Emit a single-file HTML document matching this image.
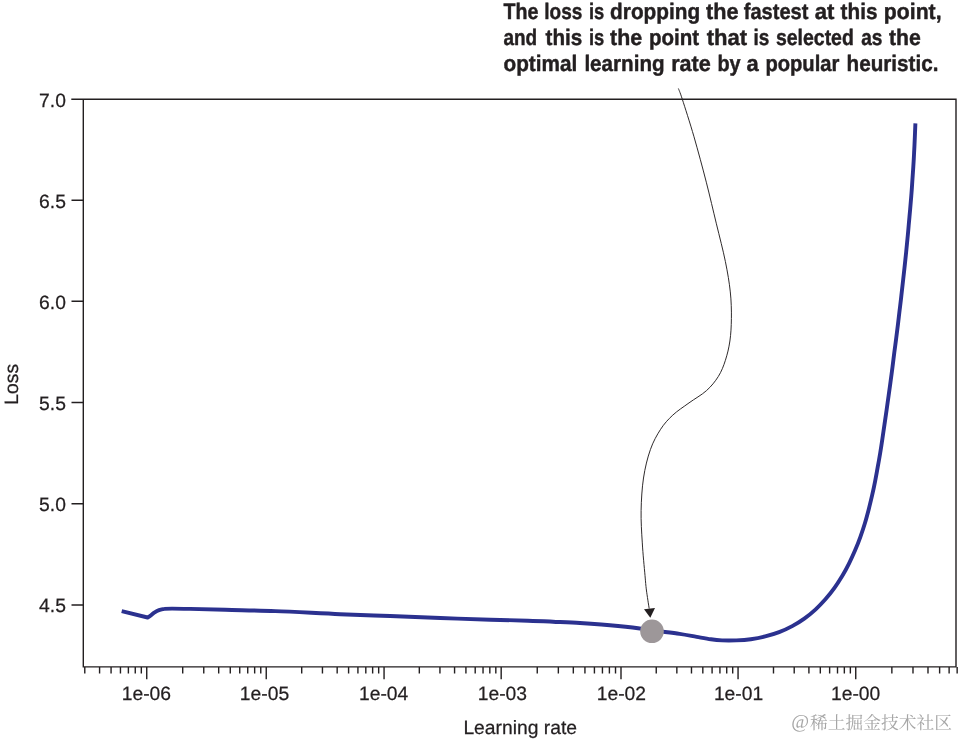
<!DOCTYPE html>
<html lang="en">
<head>
<meta charset="utf-8">
<title>Learning rate finder: loss vs. learning rate</title>
<style>
html,body{margin:0;padding:0;background:#ffffff;}
body{width:958px;height:739px;overflow:hidden;font-family:"Liberation Sans",sans-serif;}
svg{display:block;will-change:transform;text-rendering:geometricPrecision;}
</style>
</head>
<body>
<svg width="958" height="739" viewBox="0 0 958 739" role="img" aria-label="Line chart of loss versus learning rate on a log scale, with an annotation marking the point where the loss drops fastest.">
<rect x="0" y="0" width="958" height="739" fill="#ffffff"/>
<path d="M71.3 99.3 H956.0 V666.9 H83.3 V99.3" fill="none" stroke="#231f20" stroke-width="1.4" stroke-linejoin="miter"/>
<path d="M71.5 200.2 H83.3 M71.5 301.3 H83.3 M71.5 402.5 H83.3 M71.5 503.8 H83.3 M71.5 605.0 H83.3 " stroke="#231f20" stroke-width="1.4" fill="none"/>
<path d="M84.78 666.9 v6.6 M99.58 666.9 v6.6 M111.07 666.9 v6.6 M120.45 666.9 v6.6 M128.38 666.9 v6.6 M135.26 666.9 v6.6 M141.32 666.9 v6.6 M146.74 666.9 v12.4 M182.71 666.9 v6.6 M203.76 666.9 v6.6 M218.69 666.9 v6.6 M230.27 666.9 v6.6 M239.73 666.9 v6.6 M247.73 666.9 v6.6 M254.66 666.9 v6.6 M260.77 666.9 v6.6 M266.24 666.9 v12.4 M301.71 666.9 v6.6 M322.45 666.9 v6.6 M337.17 666.9 v6.6 M348.59 666.9 v6.6 M357.92 666.9 v6.6 M365.81 666.9 v6.6 M372.64 666.9 v6.6 M378.67 666.9 v6.6 M384.06 666.9 v12.4 M419.32 666.9 v6.6 M439.94 666.9 v6.6 M454.57 666.9 v6.6 M465.92 666.9 v6.6 M475.20 666.9 v6.6 M483.04 666.9 v6.6 M489.83 666.9 v6.6 M495.82 666.9 v6.6 M501.18 666.9 v12.4 M537.25 666.9 v6.6 M558.35 666.9 v6.6 M573.32 666.9 v6.6 M584.93 666.9 v6.6 M594.42 666.9 v6.6 M602.44 666.9 v6.6 M609.39 666.9 v6.6 M615.52 666.9 v6.6 M621.00 666.9 v12.4 M656.24 666.9 v6.6 M676.85 666.9 v6.6 M691.48 666.9 v6.6 M702.82 666.9 v6.6 M712.09 666.9 v6.6 M719.93 666.9 v6.6 M726.72 666.9 v6.6 M732.70 666.9 v6.6 M738.06 666.9 v12.4 M773.49 666.9 v6.6 M794.21 666.9 v6.6 M808.91 666.9 v6.6 M820.31 666.9 v6.6 M829.63 666.9 v6.6 M837.51 666.9 v6.6 M844.34 666.9 v6.6 M850.36 666.9 v6.6 M855.74 666.9 v12.4 M891.86 666.9 v6.6 M912.99 666.9 v6.6 M927.99 666.9 v6.6 M939.62 666.9 v6.6 M949.12 666.9 v6.6 M957.15 666.9 v6.6 " stroke="#231f20" stroke-width="1.4" fill="none"/>
<g font-family="'Liberation Sans', sans-serif" font-size="19.3" fill="#231f20" stroke="#231f20" stroke-width="0.25">
<text x="65.9" y="106.7" text-anchor="end">7.0</text>
<text x="65.9" y="207.6" text-anchor="end">6.5</text>
<text x="65.9" y="308.7" text-anchor="end">6.0</text>
<text x="65.9" y="409.9" text-anchor="end">5.5</text>
<text x="65.9" y="511.2" text-anchor="end">5.0</text>
<text x="65.9" y="612.4" text-anchor="end">4.5</text>
<text x="121.70" y="700.0">1e-06</text>
<text x="239.80" y="700.0">1e-05</text>
<text x="358.95" y="700.0">1e-04</text>
<text x="477.70" y="700.0">1e-03</text>
<text x="596.70" y="700.0">1e-02</text>
<text x="713.90" y="700.0">1e-01</text>
<text x="831.00" y="700.0">1e-00</text>
<text x="520.2" y="733.6" text-anchor="middle">Learning rate</text>
<text transform="translate(17.5 384.3) rotate(-90)" text-anchor="middle">Loss</text>
</g>
<path d="M121.7 611.1 L147.6 617.5 C148.1 617.2 149.4 616.4 150.5 615.6 C151.6 614.8 152.8 613.6 154.2 612.7 C155.6 611.8 157.3 610.7 159.0 610.1 C160.7 609.5 162.3 609.1 164.5 608.9 C166.7 608.6 167.8 608.6 172.0 608.6 C176.2 608.6 181.1 608.7 190.0 608.9 C198.9 609.1 211.1 609.4 225.3 609.8 C239.5 610.2 256.3 610.4 275.4 611.1 C294.5 611.8 320.9 613.4 340.0 614.2 C359.1 615.0 373.4 615.4 390.1 616.0 C406.8 616.6 423.6 617.4 440.3 618.0 C457.0 618.6 475.8 619.2 490.4 619.7 C505.0 620.2 517.6 620.4 528.0 620.7 C538.4 621.0 544.3 621.3 553.0 621.7 C561.7 622.1 572.0 622.5 580.0 623.0 C588.0 623.5 592.5 623.8 601.3 624.5 C610.1 625.2 624.1 626.5 632.6 627.5 C641.1 628.5 644.3 629.3 652.1 630.4 C659.9 631.5 672.2 632.8 679.6 633.9 C687.0 635.0 691.5 636.0 696.7 636.9 C701.9 637.8 706.7 638.7 710.9 639.3 C715.1 639.9 717.8 640.2 722.0 640.4 C726.2 640.6 731.5 640.6 736.3 640.4 C741.1 640.2 746.0 639.9 750.8 639.2 C755.6 638.5 760.5 637.6 765.2 636.4 C769.9 635.2 774.6 633.8 779.1 632.1 C783.6 630.4 788.0 628.4 792.2 626.1 C796.4 623.9 800.4 621.4 804.3 618.6 C808.2 615.9 811.9 612.8 815.4 609.6 C818.9 606.4 822.2 602.9 825.4 599.3 C828.5 595.7 831.5 592.0 834.3 588.1 C837.1 584.2 839.7 580.1 842.2 576.0 C844.7 571.9 847.0 567.7 849.1 563.4 C851.2 559.1 853.2 554.7 855.1 550.3 C857.0 545.9 858.8 541.3 860.4 536.8 C862.0 532.3 863.5 527.8 864.9 523.2 C866.3 518.6 867.5 514.0 868.7 509.4 C869.9 504.8 871.0 500.1 872.1 495.4 C873.2 490.7 874.2 486.1 875.1 481.4 C876.0 476.7 876.9 471.9 877.7 467.2 C878.6 462.5 879.4 457.8 880.2 453.0 C881.0 448.2 881.7 443.5 882.4 438.7 C883.1 433.9 883.8 429.2 884.5 424.4 C885.2 419.6 885.9 414.8 886.6 410.0 C887.3 405.2 887.9 400.5 888.6 395.7 C889.3 390.9 890.0 386.1 890.6 381.3 C891.2 376.5 891.9 371.8 892.5 367.0 C893.1 362.2 893.7 357.4 894.3 352.6 C894.9 347.8 895.6 343.1 896.2 338.3 C896.8 333.5 897.4 328.7 898.0 323.9 C898.6 319.1 899.1 314.4 899.7 309.6 C900.3 304.8 900.9 300.1 901.4 295.3 C901.9 290.6 902.5 285.9 903.0 281.1 C903.5 276.4 904.1 271.6 904.6 266.8 C905.1 262.1 905.6 257.3 906.1 252.6 C906.6 247.9 907.0 243.2 907.5 238.4 C908.0 233.7 908.4 228.8 908.8 224.1 C909.2 219.3 909.7 214.7 910.1 209.9 C910.5 205.2 910.9 200.4 911.3 195.6 C911.7 190.8 912.0 186.1 912.3 181.3 C912.6 176.5 913.0 171.7 913.3 166.9 C913.6 162.1 913.9 157.3 914.1 152.5 C914.4 147.7 914.6 142.8 914.8 137.9 C915.0 133.0 915.3 125.7 915.4 123.3" fill="none" stroke="#2b318f" stroke-width="3.9" stroke-linecap="butt" stroke-linejoin="round"/>
<circle cx="652.0" cy="631.3" r="11.8" fill="#9d9799"/>
<path d="M678.4 88.5 C679.0 90.2 679.6 90.9 682.2 98.9 C684.8 107.0 690.0 122.9 694.0 136.8 C698.0 150.7 702.6 167.7 706.3 182.2 C710.0 196.7 713.2 210.6 716.4 223.8 C719.6 237.0 723.1 250.3 725.4 261.6 C727.7 273.0 729.3 282.4 730.3 291.9 C731.3 301.4 731.5 310.2 731.4 318.4 C731.3 326.6 730.9 334.0 729.9 341.0 C728.9 348.0 727.3 354.4 725.4 360.3 C723.5 366.2 721.5 371.4 718.3 376.5 C715.1 381.6 711.3 386.3 706.4 390.7 C701.5 395.1 694.6 398.8 689.0 402.9 C683.4 407.0 677.5 410.7 672.8 415.1 C668.1 419.5 664.3 423.6 660.6 429.3 C656.9 435.1 653.2 441.5 650.4 449.6 C647.5 457.7 645.0 467.9 643.5 478.0 C642.0 488.1 641.3 499.7 641.1 510.5 C640.9 521.3 641.6 532.1 642.3 542.9 C642.9 553.7 644.3 567.5 645.0 575.4 C645.7 583.2 645.7 584.5 646.4 590.0 C647.1 595.5 648.7 605.5 649.2 608.6" fill="none" stroke="#231f20" stroke-width="0.95"/>
<path d="M650.3 617.8 L644.0 609.3 L655.0 608.1 Z" fill="#231f20"/>
<g font-family="'Liberation Sans', sans-serif" font-weight="bold" font-size="22.4" fill="#231f20" stroke="#231f20" stroke-width="0.45" stroke-linejoin="round">
<text x="503.5" y="18.8" textLength="34.9" lengthAdjust="spacingAndGlyphs">The</text>
<text x="544.3" y="18.8" textLength="38.0" lengthAdjust="spacingAndGlyphs">loss</text>
<text x="588.9" y="18.8" textLength="15.3" lengthAdjust="spacingAndGlyphs">is</text>
<text x="610.1" y="18.8" textLength="90.1" lengthAdjust="spacingAndGlyphs">dropping</text>
<text x="706.1" y="18.8" textLength="32.5" lengthAdjust="spacingAndGlyphs">the</text>
<text x="743.8" y="18.8" textLength="64.6" lengthAdjust="spacingAndGlyphs">fastest</text>
<text x="814.7" y="18.8" textLength="19.7" lengthAdjust="spacingAndGlyphs">at</text>
<text x="840.6" y="18.8" textLength="36.8" lengthAdjust="spacingAndGlyphs">this</text>
<text x="883.8" y="18.8" textLength="57.8" lengthAdjust="spacingAndGlyphs">point,</text>
<text x="503.5" y="45.1" textLength="33.7" lengthAdjust="spacingAndGlyphs">and</text>
<text x="545.6" y="45.1" textLength="36.7" lengthAdjust="spacingAndGlyphs">this</text>
<text x="588.9" y="45.1" textLength="15.3" lengthAdjust="spacingAndGlyphs">is</text>
<text x="610.1" y="45.1" textLength="32.1" lengthAdjust="spacingAndGlyphs">the</text>
<text x="649.0" y="45.1" textLength="50.2" lengthAdjust="spacingAndGlyphs">point</text>
<text x="706.7" y="45.1" textLength="40.5" lengthAdjust="spacingAndGlyphs">that</text>
<text x="753.5" y="45.1" textLength="15.8" lengthAdjust="spacingAndGlyphs">is</text>
<text x="776.0" y="45.1" textLength="77.8" lengthAdjust="spacingAndGlyphs">selected</text>
<text x="861.2" y="45.1" textLength="21.2" lengthAdjust="spacingAndGlyphs">as</text>
<text x="889.0" y="45.1" textLength="31.8" lengthAdjust="spacingAndGlyphs">the</text>
<text x="503.5" y="70.9" textLength="73.8" lengthAdjust="spacingAndGlyphs">optimal</text>
<text x="584.4" y="70.9" textLength="80.2" lengthAdjust="spacingAndGlyphs">learning</text>
<text x="671.2" y="70.9" textLength="39.6" lengthAdjust="spacingAndGlyphs">rate</text>
<text x="717.4" y="70.9" textLength="23.2" lengthAdjust="spacingAndGlyphs">by</text>
<text x="746.6" y="70.9" textLength="12.2" lengthAdjust="spacingAndGlyphs">a</text>
<text x="765.4" y="70.9" textLength="74.0" lengthAdjust="spacingAndGlyphs">popular</text>
<text x="846.6" y="70.9" textLength="91.8" lengthAdjust="spacingAndGlyphs">heuristic.</text>
</g>
<g fill="#a6a6a6" stroke="#a6a6a6" stroke-width="6">
<text x="791.2" y="728.0" font-family="'Liberation Serif', serif" font-size="19.4" fill="#a6a6a6" stroke="none">@</text>
<text x="809.9" y="729.0" font-family="'Liberation Serif', 'Noto Serif CJK SC', serif" font-size="17.75" fill="#a6a6a6" stroke="none" textLength="142" lengthAdjust="spacing">稀土掘金技术社区</text>
</g>
</svg>
</body>
</html>
